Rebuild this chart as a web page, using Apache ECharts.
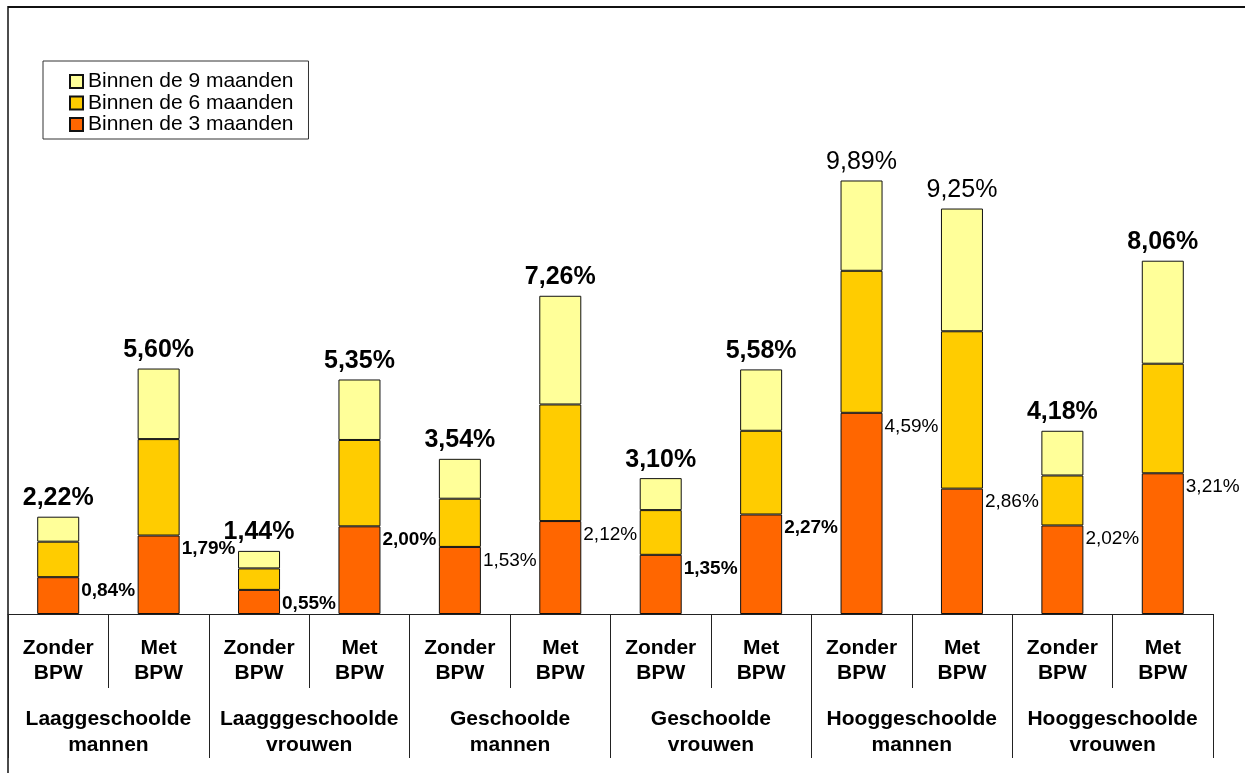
<!DOCTYPE html>
<html>
<head>
<meta charset="utf-8">
<script src="https://cdn.jsdelivr.net/npm/echarts@6/dist/echarts.min.js"></script>
<style>
html,body{margin:0;padding:0;background:#fff;}
#chart{width:1245px;height:773px;}
</style>
</head>
<body>
<div id="chart"></div>
<script>
// ---- data ----
const barLabels = ['Zonder\nBPW','Met\nBPW','Zonder\nBPW','Met\nBPW','Zonder\nBPW','Met\nBPW','Zonder\nBPW','Met\nBPW','Zonder\nBPW','Met\nBPW','Zonder\nBPW','Met\nBPW'];
const groupLabels = ['Laaggeschoolde\nmannen','Laagggeschoolde\nvrouwen','Geschoolde\nmannen','Geschoolde\nvrouwen','Hooggeschoolde\nmannen','Hooggeschoolde\nvrouwen'];
const within3 = [0.84, 1.79, 0.55, 2.00, 1.53, 2.12, 1.35, 2.27, 4.59, 2.86, 2.02, 3.21];
const within6 = [1.65, 3.99, 1.04, 3.97, 2.63, 4.78, 2.37, 4.18, 7.83, 6.45, 3.16, 5.71];
const within9 = [2.22, 5.60, 1.44, 5.35, 3.54, 7.26, 3.10, 5.58, 9.89, 9.25, 4.18, 8.06];
const seriesNames = ['Binnen de 3 maanden','Binnen de 6 maanden','Binnen de 9 maanden'];

// ---- styles (label weights as in the original) ----
const totalBold = [true,true,true,true,true,true,true,true,false,false,true,true];
const lowBold = [true,true,true,true,false,false,true,true,false,false,false,false];

const fmt = v => v.toFixed(2).replace('.', ',') + '%';
const FONT = '"Liberation Sans", Arial, sans-serif';

const inc6 = within6.map((v,i) => +(v - within3[i]).toFixed(2));
const inc9 = within9.map((v,i) => +(v - within6[i]).toFixed(2));

const chart = echarts.init(document.getElementById('chart'));
const baseItem = {borderColor:'#111', borderWidth:1};

chart.setOption({
  animation:false,
  backgroundColor:'#fff',
  textStyle:{fontFamily:FONT},
  grid:{left:8, right:32, top:88, bottom:159, containLabel:false},
  legend:{
    orient:'vertical', left:43, top:61, icon:'rect',
    data:[seriesNames[2], seriesNames[1], seriesNames[0]],
    itemWidth:13, itemHeight:13, itemGap:0.5, itemTextGap:5,
    padding:[10,15,4,26],
    borderColor:'#333', borderWidth:1, backgroundColor:'#fff',
    textStyle:{fontFamily:FONT, fontSize:21, lineHeight:20, color:'#000'}
  },
  xAxis:[{
    type:'category', data:barLabels, position:'bottom',
    axisLine:{show:true, lineStyle:{color:'#222', width:1}},
    axisTick:{show:true, length:74, lineStyle:{color:'#222', width:1}},
    axisLabel:{interval:0, margin:22, fontFamily:FONT, fontSize:21, fontWeight:'bold', lineHeight:25, color:'#000'}
  },{
    type:'category', data:groupLabels, position:'bottom',
    axisLine:{show:false},
    axisTick:{show:true, length:144, lineStyle:{color:'#222', width:1}},
    axisLabel:{interval:0, margin:92, fontFamily:FONT, fontSize:21, fontWeight:'bold', lineHeight:26, color:'#000'}
  }],
  yAxis:{type:'value', min:0, max:12, show:false, splitLine:{show:false}},
  series:[{
    name:seriesNames[0], type:'bar', stack:'t', barWidth:42,
    itemStyle:Object.assign({color:'#FF6600'}, baseItem),
    data:within3.map((v,i)=>({value:v, label:{fontWeight: lowBold[i]?'bold':'normal'}})),
    label:{show:true, position:['100%',0], offset:[2,4], align:'left', verticalAlign:'top',
      fontFamily:FONT, fontSize:19, color:'#000',
      formatter:p=>fmt(within3[p.dataIndex])}
  },{
    name:seriesNames[1], type:'bar', stack:'t', barWidth:42,
    itemStyle:Object.assign({color:'#FFCC00'}, baseItem),
    data:inc6
  },{
    name:seriesNames[2], type:'bar', stack:'t', barWidth:42,
    itemStyle:Object.assign({color:'#FFFF99'}, baseItem),
    data:inc9.map((v,i)=>({value:v, label:{fontWeight: totalBold[i]?'bold':'normal'}})),
    label:{show:true, position:'top', distance:6, fontFamily:FONT, fontSize:25, color:'#000',
      formatter:p=>fmt(within9[p.dataIndex])}
  }],
  graphic:[
    {type:'line', shape:{x1:8, y1:7, x2:1245, y2:7}, style:{stroke:'#111', lineWidth:2}, silent:true},
    {type:'line', shape:{x1:8, y1:6, x2:8, y2:773}, style:{stroke:'#111', lineWidth:1.5}, silent:true}
  ]
});
</script>
</body>
</html>
